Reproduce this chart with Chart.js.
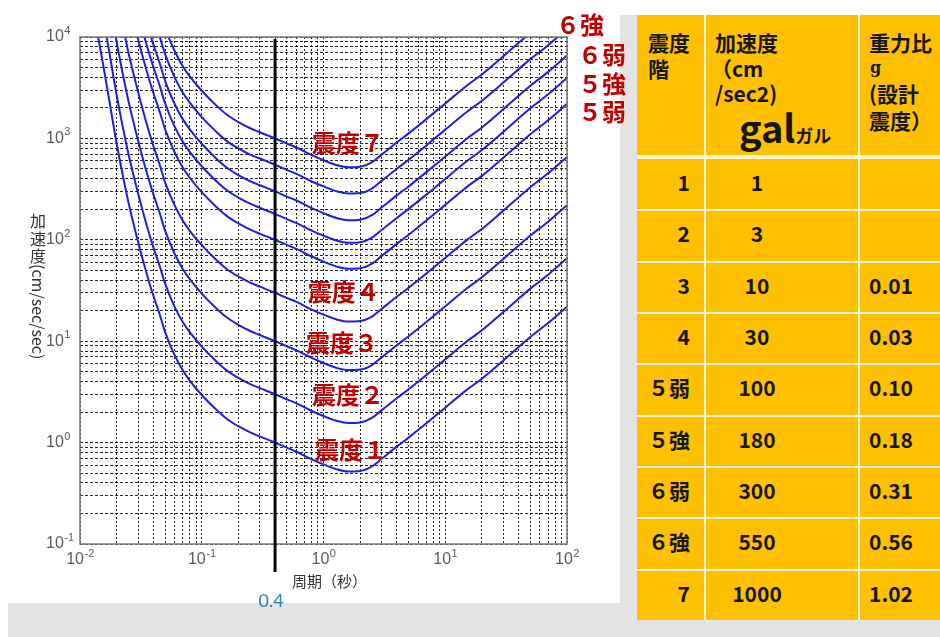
<!DOCTYPE html>
<html>
<head>
<meta charset="utf-8">
<script src="https://cdn.jsdelivr.net/npm/chart.js@4.4.1/dist/chart.umd.min.js"></script>
<style>
  html, body { margin: 0; padding: 0; width: 940px; height: 637px; overflow: hidden; background: #e3e3e3; }
  #panel { position: absolute; left: 0; top: 0; width: 620px; height: 603px; background: #fff; }
  #strip { position: absolute; left: 0; top: 0; width: 940px; height: 15px; background: #fff; }
  #edge { position: absolute; left: 0; top: 0; width: 8px; height: 637px; background: #fff; }
  #c { position: absolute; left: 0; top: 0; }
  #tbl { position: absolute; left: 637px; top: 15px; width: 320px; height: 605px; background: #ffc000;
         font-family: "Noto Sans CJK JP", sans-serif; font-weight: 700; color: #161616; font-size: 21px; }
  #tbl div { position: absolute; white-space: nowrap; }
  .vl { top: 0; width: 2px; height: 605px; background: rgba(255,255,255,0.85); }
  .hl { left: 0; width: 320px; height: 2px; background: rgba(255,255,255,0.85); }
  .ln { line-height: 26px; }
  .gal { font-size: 38px; line-height: 40px; }
  .kana { font-size: 18px; }
  .g { font-family: "DejaVu Serif", serif; font-size: 16px; font-weight: 700; }
  .cell { line-height: 46px; }
</style>
</head>
<body>
<div id="panel"></div>
<div id="strip"></div>
<div id="edge"></div>
<canvas id="c" width="630" height="637"></canvas>

<div id="tbl">
  <div class="vl" style="left:67px"></div>
  <div class="vl" style="left:221px"></div>
  <div class="hl" style="top:140px;height:4px"></div>
  <div class="ln" style="left:11px;top:14px">震度</div>
  <div class="ln" style="left:11px;top:40px">階</div>
  <div class="ln" style="left:78px;top:14px">加速度</div>
  <div class="ln" style="left:74px;top:40px">（cm</div>
  <div class="ln" style="left:78px;top:65px">/sec2)</div>
  <div class="gal" style="left:102px;top:92px">gal<span class="kana">ガル</span></div>
  <div class="ln" style="left:232px;top:14px">重力比</div>
  <div class="ln g" style="left:233px;top:40px">g</div>
  <div class="ln" style="left:232px;top:65px">(設計</div>
  <div class="ln" style="left:232px;top:92px">震度）</div>
</div>

<script>
// periods (sec)
const periods = [0.013, 0.014, 0.016, 0.018, 0.02, 0.025, 0.03, 0.035, 0.04, 0.045,
  0.05, 0.06, 0.07, 0.08, 0.1, 0.13, 0.16, 0.2, 0.25, 0.3,
  0.4, 0.5, 0.6, 0.8, 1.0, 1.3, 1.6, 2.0, 2.5, 3.0,
  4.0, 5.0, 7.0, 10, 15, 20, 30, 50, 70, 100];

// acceleration curves (cm/sec/sec)
const shindo1 = [17400, 10500, 4270, 1860, 891, 234, 95.5, 47.9, 28.2, 18.6,
  12.3, 7.24, 5.13, 4.07, 2.95, 2.14, 1.72, 1.45, 1.26, 1.15,
  1.00, 0.891, 0.813, 0.684, 0.610, 0.543, 0.519, 0.525, 0.582, 0.692,
  0.912, 1.12, 1.55, 2.21, 3.31, 4.27, 6.46, 11.0, 15.1, 21.9];
const shindo2 = [52200, 31500, 12800, 5580, 2670, 702, 287, 144, 84.6, 55.8,
  36.9, 21.7, 15.4, 12.2, 8.85, 6.42, 5.16, 4.35, 3.78, 3.45,
  3.00, 2.67, 2.44, 2.05, 1.83, 1.63, 1.56, 1.58, 1.75, 2.08,
  2.74, 3.36, 4.65, 6.63, 9.93, 12.8, 19.4, 33.0, 45.3, 65.7];
const shindo3 = [174000, 105000, 42700, 18600, 8910, 2340, 955, 479, 282, 186,
  123, 72.4, 51.3, 40.7, 29.5, 21.4, 17.2, 14.5, 12.6, 11.5,
  10.0, 8.91, 8.13, 6.84, 6.10, 5.43, 5.19, 5.25, 5.82, 6.92,
  9.12, 11.2, 15.5, 22.1, 33.1, 42.7, 64.6, 110, 151, 219];
const shindo4 = [522000, 315000, 128000, 55800, 26700, 7020, 2870, 1440, 846, 558,
  369, 217, 154, 122, 88.5, 64.2, 51.6, 43.5, 37.8, 34.5,
  30.0, 26.7, 24.4, 20.5, 18.3, 16.3, 15.6, 15.8, 17.5, 20.8,
  27.4, 33.6, 46.5, 66.3, 99.3, 128, 194, 330, 453, 657];
const shindo5l = [1740000, 1050000, 427000, 186000, 89100, 23400, 9550, 4790, 2820, 1860,
  1230, 724, 513, 407, 295, 214, 172, 145, 126, 115,
  100, 89.1, 81.3, 68.4, 61.0, 54.3, 51.9, 52.5, 58.2, 69.2,
  91.2, 112, 155, 221, 331, 427, 646, 1100, 1510, 2190];
const shindo5u = [3130000, 1890000, 769000, 335000, 160000, 42100, 17200, 8620, 5080, 3350,
  2210, 1300, 923, 733, 531, 385, 310, 261, 227, 207,
  180, 160, 146, 123, 110, 97.7, 93.4, 94.5, 105, 125,
  164, 202, 279, 398, 596, 769, 1160, 1980, 2720, 3940];
const shindo6l = [5220000, 3150000, 1280000, 558000, 267000, 70200, 28700, 14400, 8460, 5580,
  3690, 2170, 1540, 1220, 885, 642, 516, 435, 378, 345,
  300, 267, 244, 205, 183, 163, 156, 158, 175, 208,
  274, 336, 465, 663, 993, 1280, 1940, 3300, 4530, 6570];
const shindo6u = [9570000, 5780000, 2350000, 1020000, 490000, 129000, 52500, 26300, 15500, 10200,
  6770, 3980, 2820, 2240, 1620, 1180, 946, 798, 693, 633,
  550, 490, 447, 376, 336, 299, 286, 289, 320, 381,
  502, 616, 853, 1220, 1820, 2350, 3550, 6050, 8310, 12000];
const shindo7 = [17400000, 10500000, 4270000, 1860000, 891000, 234000, 95500, 47900, 28200, 18600,
  12300, 7240, 5130, 4070, 2950, 2140, 1720, 1450, 1260, 1150,
  1000, 891, 813, 684, 610, 543, 519, 525, 582, 692,
  912, 1120, 1550, 2210, 3310, 4270, 6460, 11000, 15100, 21900];

// axis decades / minor steps
const xDecades = [-2, -1, 0, 1, 2];
const yDecades = [-1, 0, 1, 2, 3, 4];
const minorSteps = [1, 2, 3, 4, 5, 6, 7, 8, 9];
const markPeriod = 0.4;

// red labels (text, period, acceleration)
const labelText = ['震度７', '震度４', '震度３', '震度２', '震度１', '６強', '６弱', '５強', '５弱'];
const labelT = [1.59, 1.47, 1.42, 1.59, 1.68, 128, 194, 194, 194];
const labelV = [902, 30.6, 9.6, 2.94, 0.845, 13100, 6650, 3440, 1820];

// table
const levels = ['1', '2', '3', '4', '５弱', '５強', '６弱', '６強', '7'];
const gals = [1, 3, 10, 30, 100, 180, 300, 550, 1000];
const gRatio = ['', '', '0.01', '0.03', '0.10', '0.18', '0.31', '0.56', '1.02'];

// build table rows
const tbl = document.getElementById('tbl');
const rowH = 51.33;
levels.forEach((lv, i) => {
  const top = 144 + i * rowH;
  if (i > 0) {
    const hl = document.createElement('div');
    hl.className = 'hl';
    hl.style.top = (top - 1) + 'px';
    tbl.appendChild(hl);
  }
  const c1 = document.createElement('div');
  c1.className = 'cell';
  c1.style.cssText = 'left:0;width:53px;text-align:right;top:' + top + 'px';
  c1.textContent = lv;
  const c2 = document.createElement('div');
  c2.className = 'cell';
  c2.style.cssText = 'left:68px;width:104px;text-align:center;top:' + top + 'px';
  c2.textContent = gals[i];
  const c3 = document.createElement('div');
  c3.className = 'cell';
  c3.style.cssText = 'left:232px;top:' + top + 'px';
  c3.textContent = gRatio[i];
  tbl.appendChild(c1); tbl.appendChild(c2); tbl.appendChild(c3);
});

function buildTicks(decades) {
  let arr = [];
  decades.forEach((d, i) => {
    if (i == decades.length - 1) { arr.push({ value: Math.pow(10, d) }); return; }
    minorSteps.forEach(m => arr.push({ value: m * Math.pow(10, d) }));
  });
  return arr;
}

const curves = [shindo1, shindo2, shindo3, shindo4, shindo5l, shindo5u, shindo6l, shindo6u, shindo7];
const datas = curves.map(arr => ({
  data: arr.map((v, i) => ({ x: periods[i], y: v })),
  borderColor: '#2020dc',
  borderWidth: 2,
  pointRadius: 0,
  cubicInterpolationMode: 'monotone'
}));

function powLabel(ctx, exp, x, y, alignLeft) {
  ctx.font = '16px "Liberation Sans", Arial, sans-serif';
  const w1 = ctx.measureText('10').width;
  ctx.font = '11px "Liberation Sans", Arial, sans-serif';
  const es = String(exp);
  const w2 = ctx.measureText(es).width;
  let sx = alignLeft ? x : x - (w1 + w2) / 2;
  ctx.fillStyle = '#5a5a5a';
  ctx.textAlign = 'left';
  ctx.textBaseline = 'middle';
  ctx.font = '16px "Liberation Sans", Arial, sans-serif';
  ctx.fillText('10', sx, y);
  ctx.font = '11px "Liberation Sans", Arial, sans-serif';
  ctx.fillText(es, sx + w1 + 0.5, y - 6);
}

const decor = {
  id: 'decor',
  afterDatasetsDraw(chart) {
    const ctx = chart.ctx;
    const a = chart.chartArea;
    const xs = chart.scales.x, ys = chart.scales.y;
    ctx.save();
    // frame
    ctx.strokeStyle = '#7a7a7a';
    ctx.lineWidth = 1.5;
    ctx.strokeRect(a.left, a.top, a.right - a.left, a.bottom - a.top);
    // 0.4 sec line
    const px = xs.getPixelForValue(markPeriod);
    ctx.strokeStyle = '#000';
    ctx.lineWidth = 3;
    ctx.beginPath();
    ctx.moveTo(px, a.top + 2);
    ctx.lineTo(px, a.bottom + 28);
    ctx.stroke();
    ctx.fillStyle = '#2e7bbf';
    ctx.font = '18px Lato, "Open Sans", sans-serif';
    ctx.textAlign = 'center';
    ctx.textBaseline = 'middle';
    ctx.fillText(String(markPeriod), px - 4, a.bottom + 57);
    // red labels
    ctx.fillStyle = '#c00000';
    ctx.font = 'bold 24px "Noto Sans CJK JP", sans-serif';
    labelText.forEach((t, i) => {
      ctx.fillText(t, xs.getPixelForValue(labelT[i]), ys.getPixelForValue(labelV[i]));
    });
    // tick labels
    xDecades.forEach(d => powLabel(ctx, d, xs.getPixelForValue(Math.pow(10, d)), a.bottom + 16, false));
    yDecades.forEach(d => powLabel(ctx, d, a.left - 34, ys.getPixelForValue(Math.pow(10, d)), true));
    // x title
    ctx.fillStyle = '#333';
    ctx.font = '15px "Noto Sans CJK JP", sans-serif';
    ctx.textAlign = 'center';
    ctx.fillText('周期（秒）', (a.left + a.right) / 2 + 6, a.bottom + 37);
    // y title: kanji upright, latin rotated
    ctx.font = '16px "Noto Sans CJK JP", sans-serif';
    const tx = a.left - 42;
    ['加', '速', '度'].forEach((ch, i) => ctx.fillText(ch, tx, 221 + i * 17.5));
    ctx.translate(tx, 264);
    ctx.rotate(Math.PI / 2);
    ctx.textAlign = 'left';
    ctx.fillText('(cm/sec/sec)', 0, 0);
    ctx.restore();
  }
};

const ctx = document.getElementById('c');
const mixedChart = new Chart(ctx, {
  type: 'line',
  data: { datasets: datas },
  options: {
    responsive: false,
    animation: false,
    layout: { padding: { top: 37, right: 63, left: 0, bottom: 0 } },
    plugins: { legend: { display: false }, tooltip: { enabled: false } },
    scales: {
      x: {
        type: 'logarithmic', min: 0.01, max: 100,
        afterBuildTicks: s => { s.ticks = buildTicks(xDecades); },
        afterFit: s => { s.height = 93; },
        ticks: { display: false, autoSkip: false },
        grid: { color: 'rgba(0,0,0,0.85)', lineWidth: 1, drawTicks: false },
        border: { display: false, dash: [2, 2] }
      },
      y: {
        type: 'logarithmic', min: 0.1, max: 10000,
        afterBuildTicks: s => { s.ticks = buildTicks(yDecades); },
        afterFit: s => { s.width = 80; },
        ticks: { display: false, autoSkip: false },
        grid: { color: 'rgba(0,0,0,0.85)', lineWidth: 1, drawTicks: false },
        border: { display: false, dash: [3, 2] }
      }
    }
  },
  plugins: [decor]
});
</script>
</body>
</html>
